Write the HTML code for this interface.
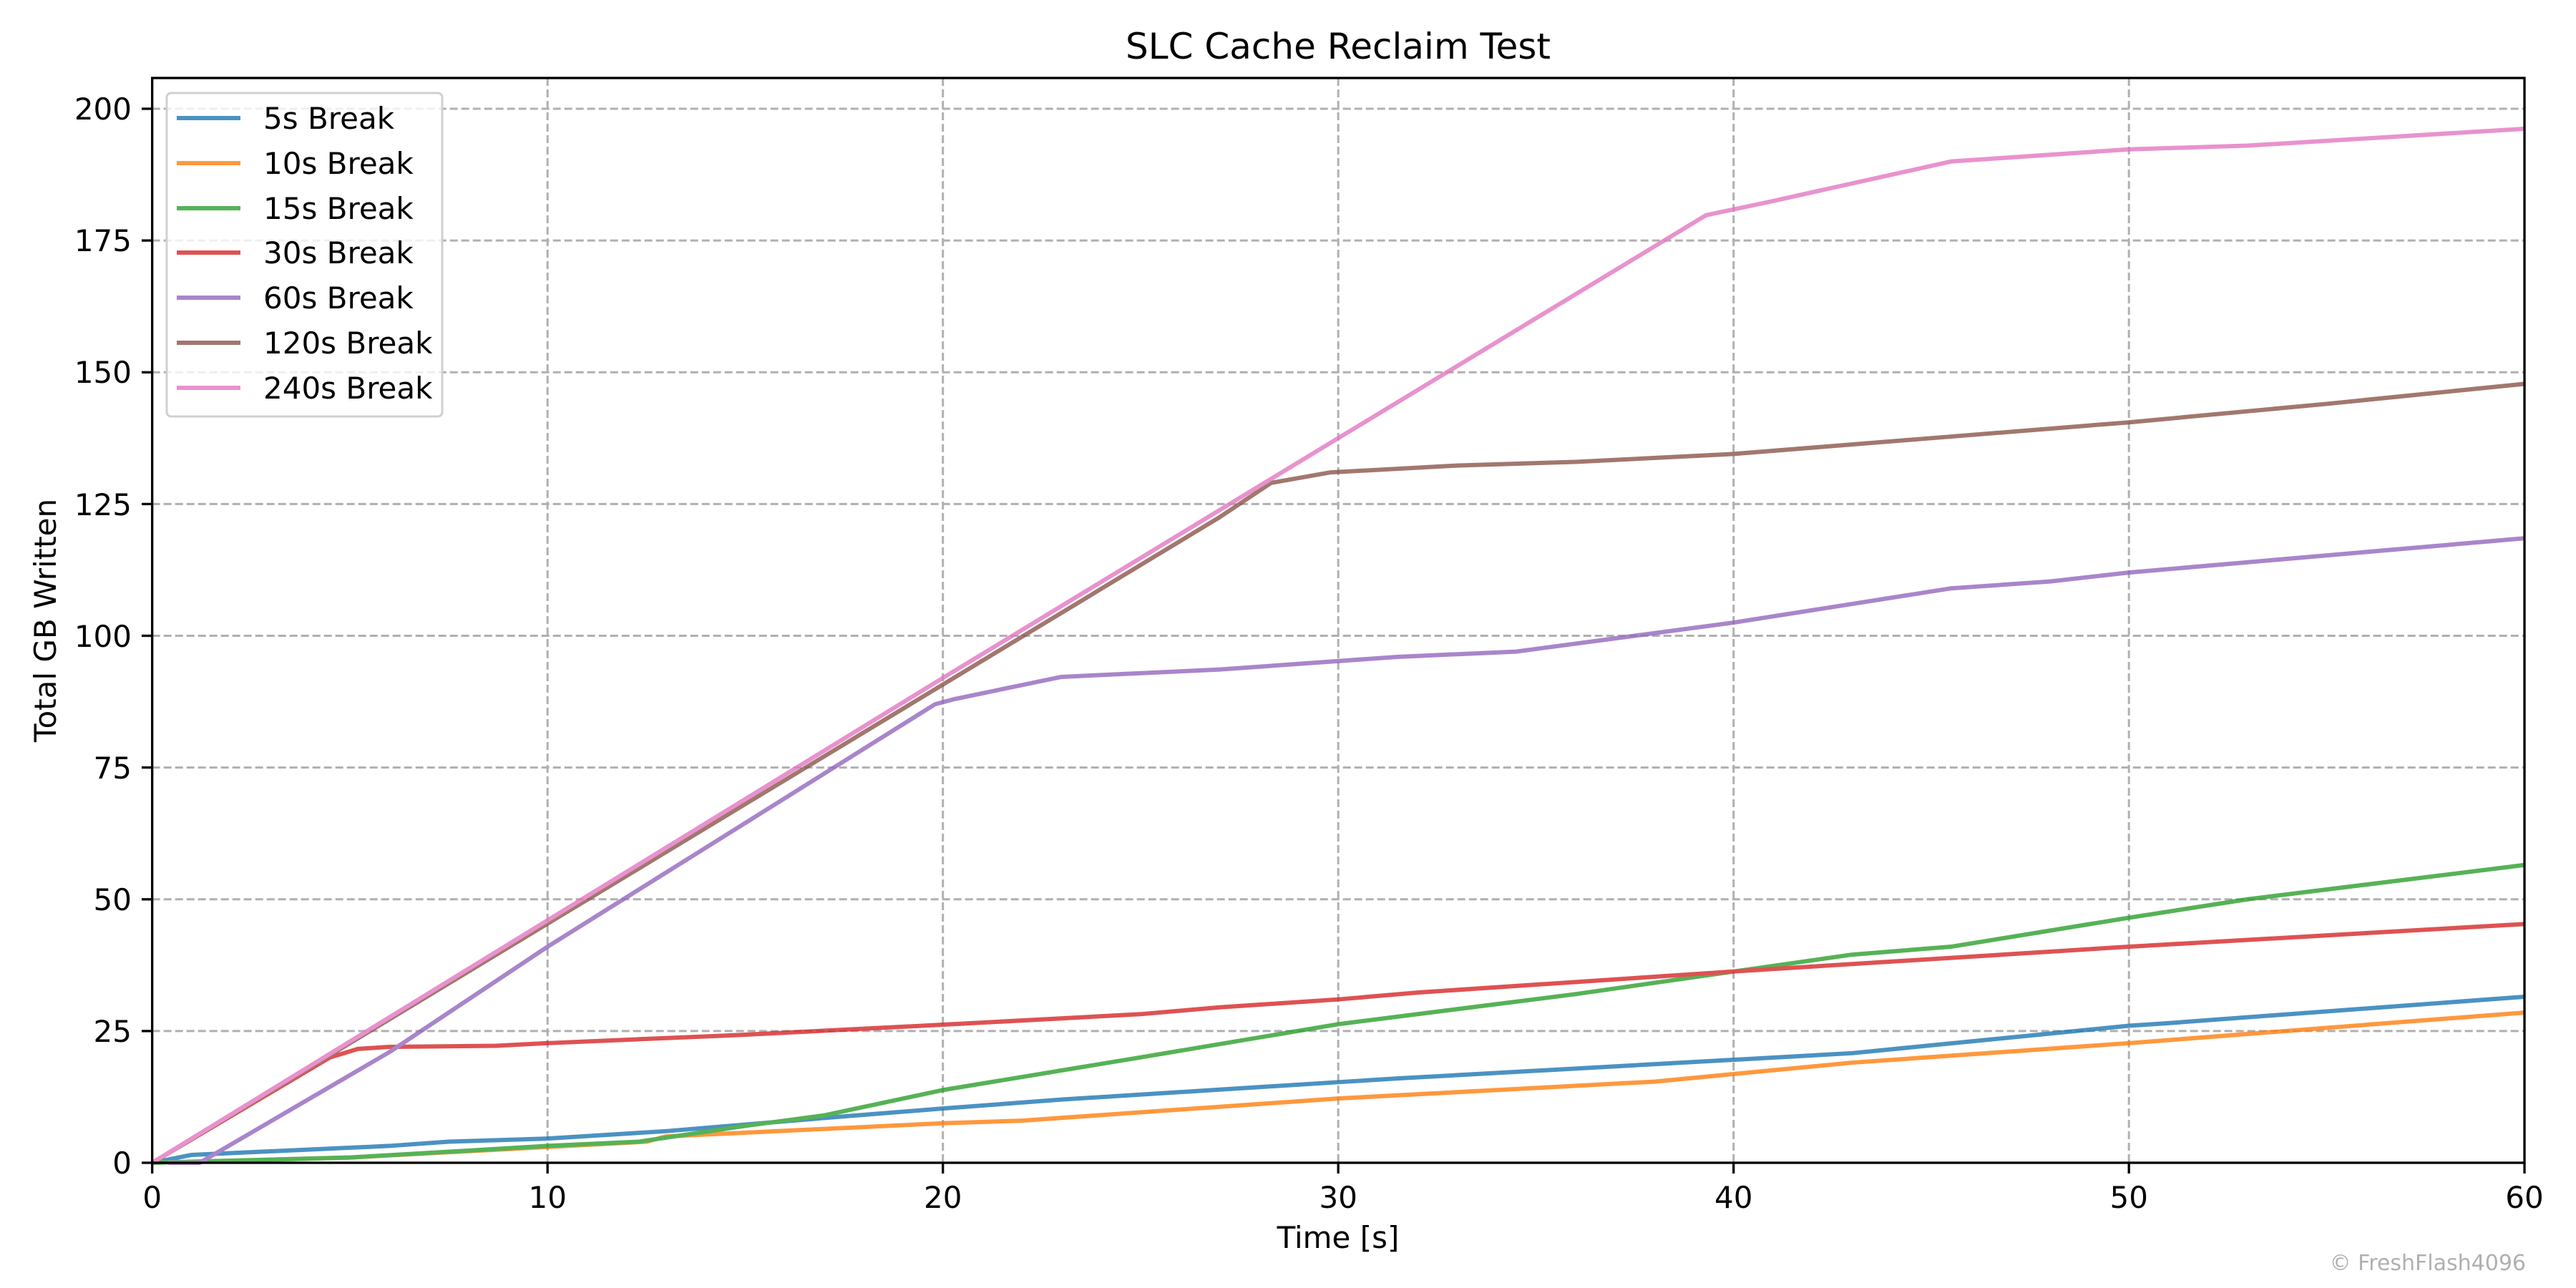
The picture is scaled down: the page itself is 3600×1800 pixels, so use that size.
<!DOCTYPE html>
<html><head><meta charset="utf-8"><style>
html,body{margin:0;padding:0;background:#fff;}
svg{display:block;font-family:"DejaVu Sans","Liberation Sans",sans-serif;}
</style></head><body>
<svg width="3600" height="1800" viewBox="0 0 3600 1800" xmlns="http://www.w3.org/2000/svg">
<rect width="3600" height="1800" fill="#fff"/>
<g stroke="#b0b0b0" stroke-width="3" stroke-dasharray="11 5">
<line x1="765.2" y1="109" x2="765.2" y2="1625"/>
<line x1="1317.7" y1="109" x2="1317.7" y2="1625"/>
<line x1="1870.2" y1="109" x2="1870.2" y2="1625"/>
<line x1="2422.7" y1="109" x2="2422.7" y2="1625"/>
<line x1="2975.2" y1="109" x2="2975.2" y2="1625"/>
<line x1="212.7" y1="1440.9" x2="3528" y2="1440.9"/>
<line x1="212.7" y1="1256.8" x2="3528" y2="1256.8"/>
<line x1="212.7" y1="1072.6" x2="3528" y2="1072.6"/>
<line x1="212.7" y1="888.5" x2="3528" y2="888.5"/>
<line x1="212.7" y1="704.4" x2="3528" y2="704.4"/>
<line x1="212.7" y1="520.3" x2="3528" y2="520.3"/>
<line x1="212.7" y1="336.1" x2="3528" y2="336.1"/>
<line x1="212.7" y1="152" x2="3528" y2="152"/>
</g>
<g transform="translate(212.7,1625) scale(55.25,-7.365)" fill="none" stroke-width="6" stroke-linejoin="round" opacity="0.8">
<polyline vector-effect="non-scaling-stroke" stroke="#1f77b4" points="0,0 1,1.5 6,3.2 7.5,4 10,4.6 13,6 17,8.5 20,10.3 23,12 30,15.3 31.5,16 43,20.8 50,26 51,26.5 60,31.5"/>
<polyline vector-effect="non-scaling-stroke" stroke="#ff7f0e" points="0,0 5,1 10,3 12.5,4 13,5 20,7.5 22,8 30,12.2 38,15.4 43,19 50,22.7 60,28.5"/>
<polyline vector-effect="non-scaling-stroke" stroke="#2ca02c" points="0,0 5,1 10,3.2 12.3,4 15,7 17,9 20,13.8 25,20 30,26.3 36,32 43,39.5 45.5,41 50,46.5 53,50 60,56.5"/>
<polyline vector-effect="non-scaling-stroke" stroke="#d62728" points="0,0 4.5,20 5.2,21.6 6,22 8.7,22.2 10,22.7 15,24.3 20,26.2 25,28.2 27,29.5 30,31 32,32.3 40,36.3 50,41 60,45.3"/>
<polyline vector-effect="non-scaling-stroke" stroke="#9467bd" points="0.4,0 1.2,0 6,21 10,41 19.8,87 20.3,88 23,92.2 27,93.6 31.5,96 34.5,97 40,102.5 45.5,109 48,110.3 50,112 60,118.5"/>
<polyline vector-effect="non-scaling-stroke" stroke="#8c564b" points="0,0 27,122.5 28.3,129 29.8,131 33,132.3 36,133 40,134.5 45,137.5 50,140.5 55,144 60,147.8"/>
<polyline vector-effect="non-scaling-stroke" stroke="#e377c2" points="0,0 20,92 30,137.5 39.3,179.8 41,182.5 45.5,190 50,192.3 53,193 60,196.2"/>
</g>
<rect x="212.7" y="109" width="3315.3" height="1516" fill="none" stroke="#000" stroke-width="3.3"/>
<g stroke="#000" stroke-width="3.3">
<line x1="212.7" y1="1625" x2="212.7" y2="1640"/><line x1="765.2" y1="1625" x2="765.2" y2="1640"/><line x1="1317.7" y1="1625" x2="1317.7" y2="1640"/><line x1="1870.2" y1="1625" x2="1870.2" y2="1640"/><line x1="2422.7" y1="1625" x2="2422.7" y2="1640"/><line x1="2975.2" y1="1625" x2="2975.2" y2="1640"/><line x1="3528" y1="1625" x2="3528" y2="1640"/>
<line x1="198" y1="1625" x2="212.7" y2="1625"/><line x1="198" y1="1440.9" x2="212.7" y2="1440.9"/><line x1="198" y1="1256.8" x2="212.7" y2="1256.8"/><line x1="198" y1="1072.6" x2="212.7" y2="1072.6"/><line x1="198" y1="888.5" x2="212.7" y2="888.5"/><line x1="198" y1="704.4" x2="212.7" y2="704.4"/><line x1="198" y1="520.3" x2="212.7" y2="520.3"/><line x1="198" y1="336.1" x2="212.7" y2="336.1"/><line x1="198" y1="152" x2="212.7" y2="152"/>
</g>
<g font-size="42" fill="#000" text-anchor="middle">
<text x="212.7" y="1688">0</text><text x="765.2" y="1688">10</text><text x="1317.7" y="1688">20</text><text x="1870.2" y="1688">30</text><text x="2422.7" y="1688">40</text><text x="2975.2" y="1688">50</text><text x="3528" y="1688">60</text>
</g>
<g font-size="42" fill="#000" text-anchor="end">
<text x="184" y="1640">0</text><text x="184" y="1456">25</text><text x="184" y="1272">50</text><text x="184" y="1088">75</text><text x="184" y="904">100</text><text x="184" y="720">125</text><text x="184" y="535">150</text><text x="184" y="351">175</text><text x="184" y="167">200</text>
</g>
<text x="1870" y="82" font-size="50" text-anchor="middle">SLC Cache Reclaim Test</text>
<text x="1870" y="1744" font-size="42" text-anchor="middle">Time [s]</text>
<text transform="translate(78,867) rotate(-90)" font-size="42" text-anchor="middle">Total GB Written</text>
<text x="3530" y="1775" font-size="30" fill="#b0b0b0" text-anchor="end">© FreshFlash4096</text>
<rect x="233" y="130" width="385" height="452" rx="6" fill="#fff" fill-opacity="0.8" stroke="#d0d0d0" stroke-width="3"/>
<g stroke-width="6" opacity="0.8">
<line x1="247" y1="165" x2="336" y2="165" stroke="#1f77b4"/>
<line x1="247" y1="228" x2="336" y2="228" stroke="#ff7f0e"/>
<line x1="247" y1="291" x2="336" y2="291" stroke="#2ca02c"/>
<line x1="247" y1="353" x2="336" y2="353" stroke="#d62728"/>
<line x1="247" y1="416" x2="336" y2="416" stroke="#9467bd"/>
<line x1="247" y1="479" x2="336" y2="479" stroke="#8c564b"/>
<line x1="247" y1="542" x2="336" y2="542" stroke="#e377c2"/>
</g>
<g font-size="42" fill="#000">
<text x="368" y="180">5s Break</text>
<text x="368" y="243">10s Break</text>
<text x="368" y="306">15s Break</text>
<text x="368" y="368">30s Break</text>
<text x="368" y="431">60s Break</text>
<text x="368" y="494">120s Break</text>
<text x="368" y="557">240s Break</text>
</g>
</svg>
</body></html>
